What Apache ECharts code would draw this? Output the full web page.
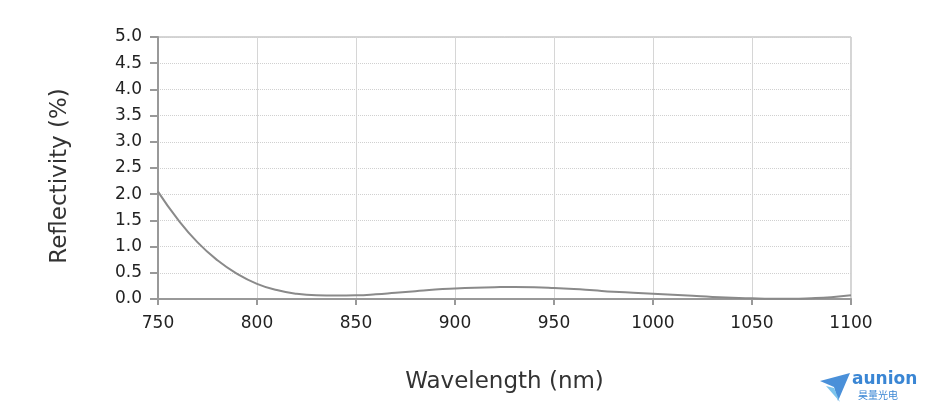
<!DOCTYPE html>
<html>
<head>
<meta charset="utf-8">
<script src="https://cdn.jsdelivr.net/npm/echarts@6/dist/echarts.min.js"></script>
<style>
  html, body { margin: 0; padding: 0; background: #fff; }
  #chart { width: 929px; height: 412px; }
</style>
</head>
<body>
<div id="chart"></div>
<script>
const wavelengths = [750, 760, 770, 780, 790, 800, 810, 820, 830, 840, 850, 860, 870, 880, 890, 900, 910, 920, 930, 940, 950, 960, 970, 980, 990, 1000, 1010, 1020, 1030, 1040, 1050, 1060, 1070, 1080, 1090, 1100];
const reflectivity = [2.05, 1.52, 1.08, 0.74, 0.48, 0.29, 0.17, 0.10, 0.07, 0.065, 0.07, 0.09, 0.12, 0.15, 0.18, 0.20, 0.215, 0.225, 0.23, 0.225, 0.21, 0.19, 0.165, 0.14, 0.12, 0.10, 0.08, 0.06, 0.04, 0.025, 0.012, 0.005, 0.005, 0.015, 0.035, 0.07];

const chart = echarts.init(document.getElementById('chart'), null, { renderer: 'canvas' });

const option = {
  animation: false,
  grid: {
    left: 158,
    right: 78,
    top: 37,
    bottom: 113,
    show: true,
    borderColor: '#aaa',
    borderWidth: 1
  },
  xAxis: {
    type: 'value',
    min: 750,
    max: 1100,
    interval: 50,
    name: 'Wavelength (nm)',
    nameLocation: 'middle',
    nameGap: 72,
    nameTextStyle: { fontFamily: 'DejaVu Sans', fontSize: 23, color: '#333' },
    axisLine: { show: true, onZero: false, lineStyle: { color: '#999', width: 2 } },
    axisTick: { show: true, length: 6, lineStyle: { color: '#999', width: 2 } },
    axisLabel: { fontFamily: 'DejaVu Sans', fontSize: 17, color: '#222', margin: 16, formatter: v => String(v) },
    splitLine: { show: true, lineStyle: { color: '#d6d6d6', width: 1 } }
  },
  yAxis: {
    type: 'value',
    min: 0,
    max: 5,
    interval: 0.5,
    name: 'Reflectivity (%)',
    nameLocation: 'middle',
    nameGap: 86,
    nameTextStyle: { fontFamily: 'DejaVu Sans', fontSize: 23, color: '#333', padding: [0, 16, 0, 0] },
    axisLine: { show: true, lineStyle: { color: '#999', width: 2 } },
    axisTick: { show: true, length: 8, lineStyle: { color: '#999', width: 2 } },
    axisLabel: {
      fontFamily: 'DejaVu Sans', fontSize: 17, color: '#222', margin: 16,
      formatter: v => v.toFixed(1)
    },
    splitLine: { show: true, lineStyle: { color: '#d0d0d0', width: 1, type: 'dotted' } }
  },
  series: [{
    type: 'line',
    smooth: true,
    showSymbol: false,
    data: wavelengths.map((w, i) => [w, reflectivity[i]]),
    lineStyle: { color: '#8a8a8a', width: 2 }
  }],
  graphic: [
    {
      type: 'polygon',
      left: 820, top: 373,
      shape: { points: [[0, 8], [30, 0], [18, 28], [14, 14]] },
      style: { fill: '#4a90d9' }
    },
    {
      type: 'polygon',
      left: 826, top: 386,
      shape: { points: [[0, 0], [8, 2], [14, 16]] },
      style: { fill: '#7cc4ec' }
    },
    {
      type: 'text',
      left: 852, top: 371,
      style: { text: 'aunion', font: 'bold 17px "DejaVu Sans"', fill: '#3a86d4' }
    },
    {
      type: 'text',
      left: 858, top: 390,
      style: { text: '昊量光电', font: '10px "Noto Sans CJK SC"', fill: '#3a86d4' }
    }
  ]
};

chart.setOption(option);
</script>
</body>
</html>
